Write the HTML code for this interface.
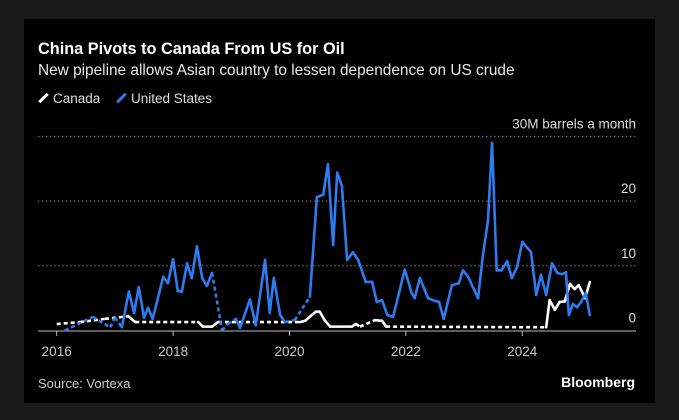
<!DOCTYPE html>
<html><head><meta charset="utf-8"><style>
body{margin:0;width:679px;height:420px;background:#1a1a1a;overflow:hidden;font-family:"Liberation Sans",sans-serif}
#card{position:absolute;left:24px;top:19px;width:631px;height:384px;background:#000}
.t{position:absolute;color:#fff;white-space:nowrap}
</style></head><body>
<div id="card"></div>
<div class="t" style="left:38px;top:40px;font-size:16.3px;font-weight:bold">China Pivots to Canada From US for Oil</div>
<div class="t" style="left:38px;top:62px;font-size:15.4px;color:#e8e8e8">New pipeline allows Asian country to lessen dependence on US crude</div>
<div class="t" style="left:38px;top:91px;font-size:13.5px;color:#ddd"><span style="display:inline-block;width:3px;height:12px;background:#fff;transform:rotate(45deg);margin:0 8px -1px 4px"></span>Canada</div>
<div class="t" style="left:116px;top:91px;font-size:13.5px;color:#ddd"><span style="display:inline-block;width:3px;height:12px;background:#2f7bf0;transform:rotate(45deg);margin:0 8px -1px 4px"></span>United States</div>
<svg id="chart" width="679" height="420" style="position:absolute;left:0;top:0"></svg>
<div class="t" style="left:38px;top:376px;font-size:13px;color:#ccc">Source: Vortexa</div>
<div class="t" style="right:44px;top:374px;font-size:14px;font-weight:bold">Bloomberg</div>
<script>
const yTicks=[0,10,20,30];
const yTickLabels=["0","10","20","30M barrels a month"];
const xTicks=[2016,2018,2020,2022,2024];
const usDates=[2016.14,2016.62,2016.92,2017.00,2017.12,2017.24,2017.33,2017.41,2017.50,2017.57,2017.65,2017.83,2017.91,2018.00,2018.08,2018.15,2018.24,2018.32,2018.41,2018.50,2018.58,2018.67,2018.84,2018.94,2019.08,2019.15,2019.32,2019.42,2019.58,2019.66,2019.73,2019.84,2019.92,2020.09,2020.35,2020.47,2020.58,2020.66,2020.75,2020.82,2020.90,2020.99,2021.09,2021.18,2021.31,2021.42,2021.50,2021.59,2021.68,2021.78,2021.98,2022.10,2022.15,2022.24,2022.38,2022.46,2022.57,2022.65,2022.79,2022.91,2022.98,2023.07,2023.24,2023.32,2023.41,2023.48,2023.56,2023.64,2023.74,2023.82,2023.91,2024.00,2024.15,2024.24,2024.32,2024.41,2024.51,2024.60,2024.68,2024.75,2024.80,2024.87,2024.94,2025.01,2025.09,2025.16];
const usValues=[0,2.1,0.5,2,0.5,6,2.7,6.7,2,3.5,1.8,8.3,7.3,11,6.1,6,10.4,8.1,13,8.1,6.9,8.9,0,1,1.8,0.4,4.8,0.8,10.9,2.7,8.1,2.4,1.3,1.6,5.2,20.6,21,25.7,13.2,24.4,22.4,10.9,12.1,10.9,7.5,7.5,4.4,4.7,2.4,2.1,9.4,5.8,5,8.1,5,4.7,4.4,1.8,7,7.3,9.3,8.3,5,11.4,17,29,9.3,9.3,10.7,8.1,9.8,13.7,12.1,5.5,8.6,5.5,10.4,8.9,8.7,9,2.4,4.1,3.6,4.4,5.8,2.4,2.9];
const usDashedSegs=[0,1,2,3,21,22,23,32,33];
const caDates=[2016.0,2016.4,2016.83,2017.23,2017.35,2018.43,2018.51,2018.67,2018.77,2020.18,2020.27,2020.45,2020.52,2020.61,2020.70,2021.07,2021.14,2021.21,2021.47,2021.59,2021.66,2024.41,2024.47,2024.56,2024.64,2024.73,2024.82,2024.90,2024.97,2025.08,2025.16];
const caValues=[1,1.3,1.8,2.2,1.3,1.3,0.6,0.6,1.3,1.3,1.5,2.9,2.9,1.5,0.6,0.6,1.0,0.6,1.6,1.5,0.6,0.5,4.7,3.2,4.4,4.5,7.2,6.4,7,5,7.5];
const caDashedSegs=[0,1,2,4,8,16,17,20];

const NS="http://www.w3.org/2000/svg";
const svg=document.getElementById('chart');
const X=d=>56.7+(d-2016)*58.2;
const Y=v=>330.5-v*6.47;
function mk(tag,attrs){const e=document.createElementNS(NS,tag);for(const k in attrs)e.setAttribute(k,attrs[k]);svg.appendChild(e);return e;}
yTicks.forEach((t,i)=>{
  if(t>0){const g=mk('line',{x1:38,x2:636,y1:Y(t),y2:Y(t),stroke:'#777','stroke-width':1,'stroke-dasharray':'1.5 2.5'});
  
  }
  const l=mk('text',{x:636,y:Y(t)-8,'text-anchor':'end',fill:'#ddd','font-size':13.5,'font-family':'Liberation Sans, sans-serif'});
  l.textContent=yTickLabels[i];
  
  
});
const ax=mk('line',{x1:38,x2:636,y1:331,y2:331,stroke:'#bbb','stroke-width':1});


xTicks.forEach(t=>{
  const k=mk('line',{x1:X(t),x2:X(t),y1:331,y2:336,stroke:'#bbb','stroke-width':1});
  
  
  const l=mk('text',{x:X(t),y:356,'text-anchor':'middle',fill:'#ccc','font-size':13.5,'font-family':'Liberation Sans, sans-serif'});
  l.textContent=String(t);
  
  
});
function series(dates,vals,dashed,color,name){
  for(let i=0;i<dates.length-1;i++){
    const s=mk('line',{x1:X(dates[i]),y1:Y(vals[i]),x2:X(dates[i+1]),y2:Y(vals[i+1]),stroke:color,'stroke-width':2.6,'stroke-linecap':dashed.includes(i)?'butt':'round'});
    if(dashed.includes(i))s.setAttribute('stroke-dasharray','4 3');
    
    
  }
}
series(caDates,caValues,caDashedSegs,'#ffffff','canada-line');
series(usDates,usValues,usDashedSegs,'#2f7bf0','us-line');
</script>
</body></html>
